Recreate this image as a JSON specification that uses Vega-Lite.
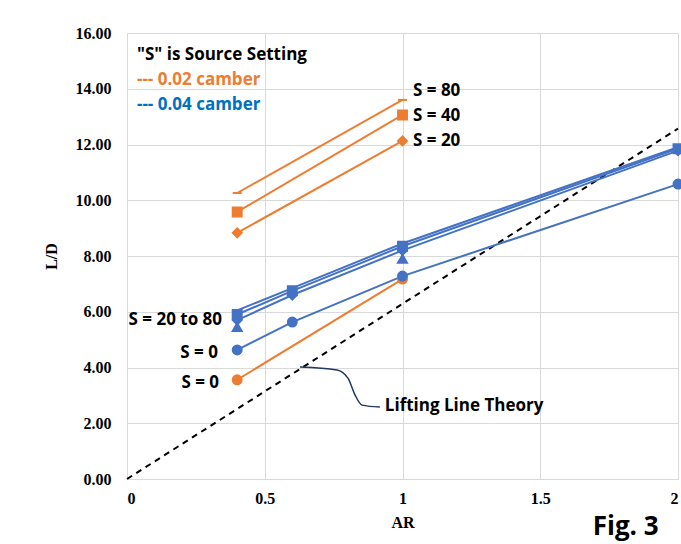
{
  "$schema": "https://vega.github.io/schema/vega-lite/v6.json",
  "autosize": "none",
  "width": 551,
  "height": 446,
  "padding": {"left": 127, "top": 33, "right": 3, "bottom": 65},
  "background": "white",
  "config": {"view": {"stroke": null}},
  "datasets": {
    "series": [
      {"camber": "0.02", "S": "80", "series": "o80", "AR": 0.4, "LD": 10.26},
      {"camber": "0.02", "S": "80", "series": "o80", "AR": 1, "LD": 13.6},
      {"camber": "0.02", "S": "40", "series": "o40", "AR": 0.4, "LD": 9.58},
      {"camber": "0.02", "S": "40", "series": "o40", "AR": 1, "LD": 13.06},
      {"camber": "0.02", "S": "20", "series": "o20", "AR": 0.4, "LD": 8.83},
      {"camber": "0.02", "S": "20", "series": "o20", "AR": 1, "LD": 12.13},
      {"camber": "0.02", "S": "0", "series": "o0", "AR": 0.4, "LD": 3.56},
      {"camber": "0.02", "S": "0", "series": "o0", "AR": 1, "LD": 7.17},
      {"camber": "0.04", "S": "0", "series": "b0", "AR": 0.4, "LD": 4.63},
      {"camber": "0.04", "S": "0", "series": "b0", "AR": 0.6, "LD": 5.63},
      {"camber": "0.04", "S": "0", "series": "b0", "AR": 1, "LD": 7.28},
      {"camber": "0.04", "S": "0", "series": "b0", "AR": 2, "LD": 10.58},
      {"camber": "0.04", "S": "80", "series": "b80", "AR": 0.4, "LD": 6.05},
      {"camber": "0.04", "S": "80", "series": "b80", "AR": 0.6, "LD": 6.85},
      {"camber": "0.04", "S": "80", "series": "b80", "AR": 1, "LD": 8.45},
      {"camber": "0.04", "S": "80", "series": "b80", "AR": 2, "LD": 11.9},
      {"camber": "0.04", "S": "40", "series": "b40", "AR": 0.4, "LD": 5.9},
      {"camber": "0.04", "S": "40", "series": "b40", "AR": 0.6, "LD": 6.75},
      {"camber": "0.04", "S": "40", "series": "b40", "AR": 1, "LD": 8.35},
      {"camber": "0.04", "S": "40", "series": "b40", "AR": 2, "LD": 11.85},
      {"camber": "0.04", "S": "20", "series": "b20", "AR": 0.4, "LD": 5.7},
      {"camber": "0.04", "S": "20", "series": "b20", "AR": 0.6, "LD": 6.6},
      {"camber": "0.04", "S": "20", "series": "b20", "AR": 1, "LD": 8.2},
      {"camber": "0.04", "S": "20", "series": "b20", "AR": 2, "LD": 11.78},
      {"camber": "0.04", "S": "alt", "series": "balt", "AR": 0.4, "LD": 5.45},
      {"camber": "0.04", "S": "alt", "series": "balt", "AR": 1, "LD": 7.9}
    ],
    "theory": [
      {"AR": 0, "LD": 0},
      {"AR": 2, "LD": 12.57}
    ],
    "connector": [
      {"AR": 0.628, "LD": 4.02},
      {"AR": 0.762, "LD": 3.91},
      {"AR": 0.802, "LD": 3.62},
      {"AR": 0.828, "LD": 3.01},
      {"AR": 0.853, "LD": 2.65},
      {"AR": 0.918, "LD": 2.58}
    ],
    "labelsLeft": [
      {"label": "S = 80", "AR": 1.038, "LD": 13.92},
      {"label": "S = 40", "AR": 1.038, "LD": 13.02},
      {"label": "S = 20", "AR": 1.038, "LD": 12.13},
      {"label": "Lifting Line Theory", "AR": 0.936, "LD": 2.62},
      {"label": "\"S\" is Source Setting", "AR": 0.036, "LD": 15.21}
    ],
    "labelsRight": [
      {"label": "S = 20 to 80", "AR": 0.345, "LD": 5.7},
      {"label": "S = 0", "AR": 0.33, "LD": 4.52},
      {"label": "S = 0", "AR": 0.334, "LD": 3.44}
    ],
    "legend002": [{"label": "--- 0.02 camber", "AR": 0.036, "LD": 14.31}],
    "legend004": [{"label": "--- 0.04 camber", "AR": 0.036, "LD": 13.42}],
    "fig": [{"label": "Fig. 3", "AR": 1.81, "LD": -2.02}]
  },
  "layer": [
    {
      "data": {"name": "theory"},
      "mark": {"type": "line", "color": "black", "strokeWidth": 2, "strokeDash": [6, 5]},
      "encoding": {
        "x": {"field": "AR", "type": "quantitative", "scale": {"domain": [0, 2], "nice": false},
          "axis": {"title": "AR", "values": [0, 0.5, 1, 1.5, 2], "format": "~g", "grid": true, "gridColor": "#d9d9d9", "domainColor": "#d9d9d9", "ticks": false,
            "labelFont": "Liberation Serif", "labelFontSize": 16, "labelFontWeight": "bold", "labelColor": "black", "labelPadding": 11,
            "titleFont": "Liberation Serif", "titleFontSize": 16, "titleFontWeight": "bold", "titleColor": "black", "titlePadding": 8}},
        "y": {"field": "LD", "type": "quantitative", "scale": {"domain": [0, 16], "nice": false},
          "axis": {"title": "L/D", "values": [0, 2, 4, 6, 8, 10, 12, 14, 16], "format": ".2f", "grid": true, "gridColor": "#d9d9d9", "domain": false, "ticks": false,
            "labelFont": "Liberation Serif", "labelFontSize": 16, "labelFontWeight": "bold", "labelColor": "black", "labelPadding": 16,
            "titleFont": "Liberation Serif", "titleFontSize": 16, "titleFontWeight": "bold", "titleColor": "black", "titlePadding": 16}}
      }
    },
    {
      "data": {"name": "series"},
      "transform": [{"filter": "datum.series != 'balt'"}],
      "mark": {"type": "line", "strokeWidth": 2},
      "encoding": {
        "x": {"field": "AR", "type": "quantitative"},
        "y": {"field": "LD", "type": "quantitative"},
        "detail": {"field": "series"},
        "color": {"field": "camber", "type": "nominal", "scale": {"domain": ["0.02", "0.04"], "range": ["#ED7D31", "#4472C4"]}, "legend": null}
      }
    },
    {
      "data": {"name": "series"},
      "mark": {"type": "point", "filled": true, "opacity": 1, "strokeWidth": 2, "size": 80},
      "encoding": {
        "x": {"field": "AR", "type": "quantitative"},
        "y": {"field": "LD", "type": "quantitative"},
        "shape": {"field": "S", "type": "nominal", "scale": {"domain": ["80", "40", "20", "0", "alt"], "range": ["stroke", "square", "diamond", "circle", "triangle-up"]}, "legend": null},
        "fill": {"field": "camber", "type": "nominal", "scale": {"domain": ["0.02", "0.04"], "range": ["#ED7D31", "#4472C4"]}, "legend": null},
        "stroke": {"field": "camber", "type": "nominal", "scale": {"domain": ["0.02", "0.04"], "range": ["#ED7D31", "#4472C4"]}, "legend": null}
      }
    },
    {
      "data": {"name": "connector"},
      "mark": {"type": "line", "color": "#1F3864", "strokeWidth": 1.5, "interpolate": "monotone"},
      "encoding": {
        "x": {"field": "AR", "type": "quantitative"},
        "y": {"field": "LD", "type": "quantitative"}
      }
    },
    {
      "data": {"name": "labelsLeft"},
      "mark": {"type": "text", "align": "left", "baseline": "middle", "font": "Open Sans", "fontSize": 17, "fontWeight": "bold", "color": "black"},
      "encoding": {
        "x": {"field": "AR", "type": "quantitative"},
        "y": {"field": "LD", "type": "quantitative"},
        "text": {"field": "label"}
      }
    },
    {
      "data": {"name": "labelsRight"},
      "mark": {"type": "text", "align": "right", "baseline": "middle", "font": "Open Sans", "fontSize": 17, "fontWeight": "bold", "color": "black"},
      "encoding": {
        "x": {"field": "AR", "type": "quantitative"},
        "y": {"field": "LD", "type": "quantitative"},
        "text": {"field": "label"}
      }
    },
    {
      "data": {"name": "legend002"},
      "mark": {"type": "text", "align": "left", "baseline": "middle", "font": "Open Sans", "fontSize": 17, "fontWeight": "bold", "color": "#ED7D31"},
      "encoding": {
        "x": {"field": "AR", "type": "quantitative"},
        "y": {"field": "LD", "type": "quantitative"},
        "text": {"field": "label"}
      }
    },
    {
      "data": {"name": "legend004"},
      "mark": {"type": "text", "align": "left", "baseline": "middle", "font": "Open Sans", "fontSize": 17, "fontWeight": "bold", "color": "#0070C0"},
      "encoding": {
        "x": {"field": "AR", "type": "quantitative"},
        "y": {"field": "LD", "type": "quantitative"},
        "text": {"field": "label"}
      }
    },
    {
      "data": {"name": "fig"},
      "mark": {"type": "text", "align": "center", "baseline": "alphabetic", "font": "Open Sans", "fontSize": 26, "fontWeight": "bold", "color": "black"},
      "encoding": {
        "x": {"field": "AR", "type": "quantitative"},
        "y": {"field": "LD", "type": "quantitative"},
        "text": {"field": "label"}
      }
    }
  ]
}
